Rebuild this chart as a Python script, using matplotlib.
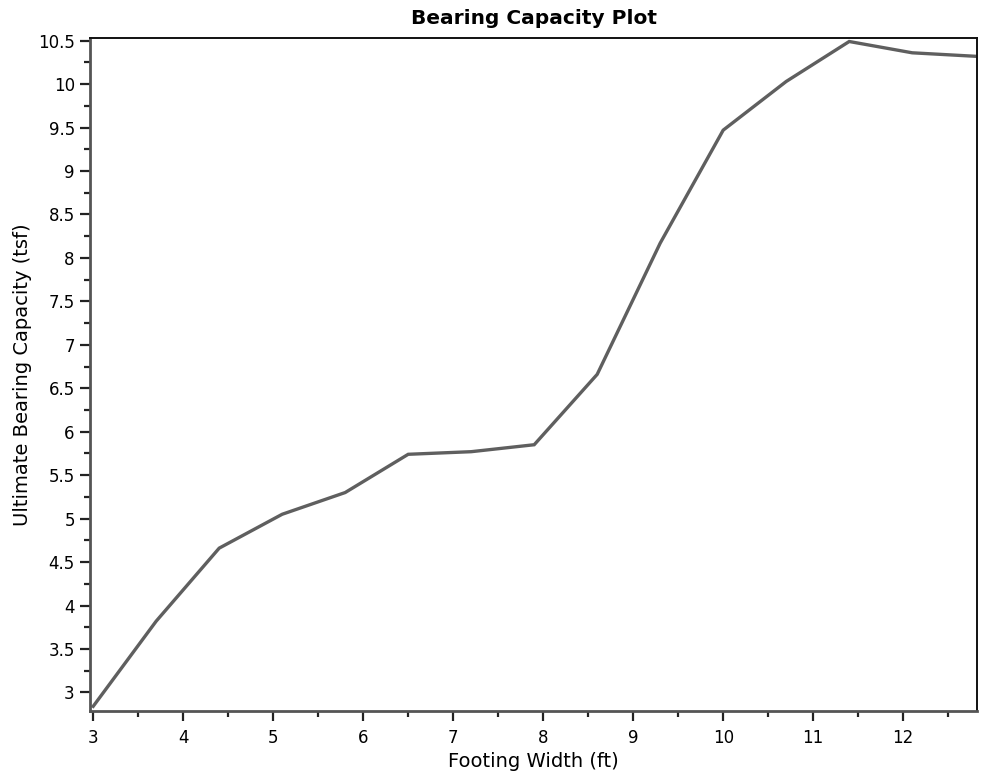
import numpy as np
import matplotlib.pyplot as plt
from matplotlib.ticker import MultipleLocator


# footing width (ft) and ultimate bearing capacity (tsf)
WIDTH = np.array([3.0, 3.7, 4.4, 5.1, 5.8, 6.5, 7.2, 7.9,
                  8.6, 9.3, 10.0, 10.7, 11.4, 12.1, 12.8])
CAPACITY = np.array([2.84, 3.82, 4.66, 5.05, 5.30, 5.74, 5.77, 5.85,
                     6.66, 8.17, 9.47, 10.03, 10.49, 10.36, 10.32])

X_TICKS = np.arange(3, 13)
Y_TICKS = np.arange(3, 10.51, 0.5)
Y_LABELS = ['3', '3.5', '4', '4.5', '5', '5.5', '6', '6.5', '7',
            '7.5', '8', '8.5', '9', '9.5', '10', '10.5']


def main():
    fig = plt.figure(figsize=(9.83, 7.76), dpi=100)
    ax = fig.add_axes([0.0916, 0.0842, 0.9023, 0.8668])

    ax.plot(WIDTH, CAPACITY, color='#5f5f5f', linewidth=2.4,
            solid_joinstyle='miter')

    ax.set_xlim(2.965, 12.82)
    ax.set_ylim(2.79, 10.53)

    ax.set_xticks(X_TICKS)
    ax.set_yticks(Y_TICKS)
    ax.set_yticklabels(Y_LABELS)
    ax.xaxis.set_minor_locator(MultipleLocator(0.5))
    ax.yaxis.set_minor_locator(MultipleLocator(0.25))

    ax.tick_params(axis='both', which='major', direction='out', length=7,
                   width=1.6, color='#222222', labelsize=12, pad=4)
    ax.tick_params(axis='x', which='major', pad=6)
    ax.tick_params(axis='both', which='minor', direction='out', length=4,
                   width=1.6, color='#222222')

    for side in ('left', 'bottom'):
        ax.spines[side].set_color('#555555')
        ax.spines[side].set_linewidth(2.0)
    for side in ('top', 'right'):
        ax.spines[side].set_color('#111111')
        ax.spines[side].set_linewidth(1.4)

    ax.set_xlabel('Footing Width (ft)', fontsize=14, labelpad=4)
    ax.set_ylabel('Ultimate Bearing Capacity (tsf)', fontsize=14, labelpad=4)
    ax.set_title('Bearing Capacity Plot', fontsize=14.5, fontweight='bold',
                 pad=10)

    fig.savefig('out.png', dpi=100)


if __name__ == '__main__':
    main()
